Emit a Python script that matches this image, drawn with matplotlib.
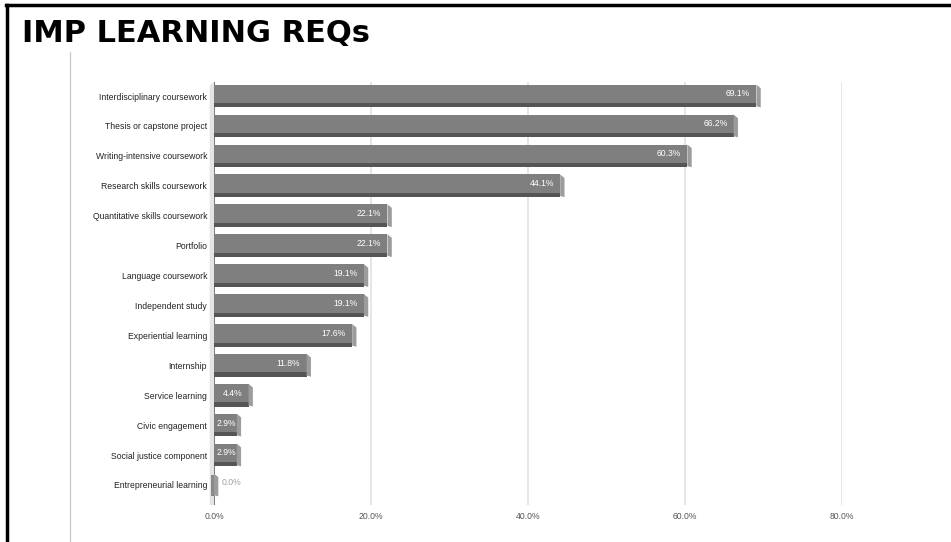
import matplotlib.pyplot as plt
from matplotlib.patches import Polygon, Rectangle
from matplotlib.lines import Line2D

# --- data ---
categories = [
    "Interdisciplinary coursework",
    "Thesis or capstone project",
    "Writing-intensive coursework",
    "Research skills coursework",
    "Quantitative skills coursework",
    "Portfolio",
    "Language coursework",
    "Independent study",
    "Experiential learning",
    "Internship",
    "Service learning",
    "Civic engagement",
    "Social justice component",
    "Entrepreneurial learning",
]
values = [69.1, 66.2, 60.3, 44.1, 22.1, 22.1, 19.1, 19.1, 17.6, 11.8, 4.4, 2.9, 2.9, 0.0]
xticks = [0, 20, 40, 60, 80]

plt.rcParams["font.family"] = ["Liberation Sans", "DejaVu Sans"]

W, H = 951, 542
fig = plt.figure(figsize=(W / 100, H / 100), dpi=100)
fig.patch.set_facecolor("white")

# axes placed to match the reference pixel grid
x0, x80, ytop, ybot = 214, 842, 82, 505
ax = fig.add_axes([x0 / W, 1 - ybot / H, (x80 - x0) / W, (ybot - ytop) / H])
ax.set_xlim(0, 80)
ax.set_ylim(13.67, -0.47)

face, dark, side, wall = "#7f7f7f", "#555555", "#9c9c9c", "#e4e4e4"
h_face, h_dark = 0.62, 0.14
dx = 0.55  # depth of the bevel in % units

# light "back wall" on the left of the zero line
ax.add_patch(Polygon([(-dx, -0.47 + 0.12), (0, -0.47), (0, 13.67), (-dx, 13.67)],
                     closed=True, fc=wall, ec="none", clip_on=False, zorder=1))

for i, (cat, v) in enumerate(zip(categories, values)):
    top = i - 0.38
    ax.add_patch(Rectangle((0, top), v, h_face, fc=face, ec="none", zorder=3))
    ax.add_patch(Rectangle((0, top + h_face), v, h_dark, fc=dark, ec="none", zorder=3))
    ax.add_patch(Polygon([(v, top), (v + dx, top + 0.12), (v + dx, top + h_face + h_dark),
                          (v, top + h_face + h_dark - 0.04)],
                         closed=True, fc=side, ec="none", zorder=3))
    ymid = top + h_face / 2
    if v == 0:
        ax.add_patch(Rectangle((-dx * 0.6, top + 0.06), dx * 0.6, h_face + h_dark - 0.06,
                               fc="#8a8a8a", ec="none", clip_on=False, zorder=3))
        ax.text(1.0, ymid, "0.0%", ha="left", va="center",
                fontsize=6.2, color="#a0a0a0", zorder=4)
    elif v < 4:
        ax.text(0.35, ymid, f"{v:.1f}%", ha="left", va="center",
                fontsize=6.2, color="white", zorder=4)
    else:
        ax.text(v - 0.8, ymid, f"{v:.1f}%", ha="right", va="center",
                fontsize=6.2, color="white", zorder=4)

ax.set_yticks(range(len(categories)))
ax.set_yticklabels(categories, fontsize=6.2, color="#222222")
ax.tick_params(axis="y", length=0, pad=5)
ax.set_xticks(xticks)
ax.set_xticklabels([f"{t:.1f}%" for t in xticks], fontsize=6.2, color="#555555")
ax.tick_params(axis="x", length=0, pad=5)
ax.grid(axis="x", color="#e2e2e2", lw=1.2, zorder=0)
ax.axvline(0, color="#6a6a6a", lw=1.2, zorder=2)
for s in ax.spines.values():
    s.set_visible(False)

# title
fig.text(22 / W, 1 - 33 / H, "IMP LEARNING REQs", fontsize=22, fontweight="bold",
         family=["DejaVu Sans"], color="black", ha="left", va="center")

# slide frame and divider line
fig.add_artist(Line2D([6 / W, 1], [1 - 5 / H, 1 - 5 / H], color="black", lw=2.5,
                      transform=fig.transFigure))
fig.add_artist(Line2D([7 / W, 7 / W], [1 - 5 / H, 0], color="black", lw=2.5,
                      transform=fig.transFigure))
fig.add_artist(Line2D([70 / W, 70 / W], [1 - 52 / H, 0], color="#cccccc", lw=1,
                      transform=fig.transFigure))

fig.savefig("out.png", dpi=100)
